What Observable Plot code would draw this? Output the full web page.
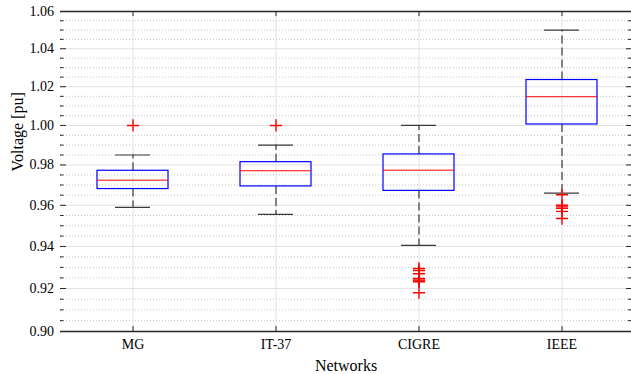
<!DOCTYPE html>
<html><head><meta charset="utf-8">
<script src="https://cdn.jsdelivr.net/npm/d3@7"></script>
<script src="https://cdn.jsdelivr.net/npm/@observablehq/plot@0.6"></script>
<style>
body{margin:0;background:#fff}
</style>
</head><body><div id="chart"></div>
<script>
const networks = ["MG", "IT-37", "CIGRE", "IEEE"];
const whiskerLow = [0.959, 0.9555, 0.9405, 0.966];
const q1 = [0.968, 0.9693, 0.9671, 1.0005];
const median = [0.9724, 0.9771, 0.9774, 1.0148];
const q3 = [0.9771, 0.9814, 0.9853, 1.0235];
const whiskerHigh = [0.985, 0.990, 1.000, 1.050];
const outlierNetwork = ["MG", "IT-37", "CIGRE", "CIGRE", "CIGRE", "CIGRE", "CIGRE", "CIGRE", "CIGRE", "CIGRE",
  "IEEE", "IEEE", "IEEE", "IEEE", "IEEE", "IEEE"];
const outlierValue = [1.000, 1.000, 0.9295, 0.9285, 0.9270, 0.9248, 0.9240, 0.9235, 0.9232, 0.9180,
  0.9652, 0.9600, 0.9592, 0.9585, 0.9570, 0.9535];
const yTicks = [0.90, 0.92, 0.94, 0.96, 0.98, 1.00, 1.02, 1.04, 1.06];
const yMinorTicks = [0.905, 0.910, 0.915, 0.925, 0.930, 0.935, 0.945, 0.950, 0.955, 0.965, 0.970, 0.975,
  0.985, 0.990, 0.995, 1.005, 1.010, 1.015, 1.025, 1.030, 1.035, 1.045, 1.050, 1.055];

const boxes = networks.map((n, i) => ({n, lo: whiskerLow[i], q1: q1[i], med: median[i], q3: q3[i], hi: whiskerHigh[i]}));
const outliers = outlierNetwork.map((n, i) => ({n, v: outlierValue[i]}));

const W = 631, H = 374, ML = 60, MR = 0, MT = 11, MB = 43;
const frameW = W - ML - MR;
const axisColor = "#262626";
const FONT = "Liberation Serif";

const chart = Plot.plot({
  width: W, height: H,
  marginLeft: ML, marginRight: MR, marginTop: MT, marginBottom: MB,
  style: "background: #fff; color: #000; font-family: 'Liberation Serif', serif; font-size: 14px; overflow: visible;",
  x: {domain: networks, type: "band", range: [ML, 633.3], padding: 0, label: null},
  y: {type: "log", domain: [0.90, 1.06], label: null},
  marks: [
    // grid
    Plot.ruleY(yMinorTicks, {stroke: "#c4c4c4", strokeWidth: 1, strokeDasharray: "1,2"}),
    Plot.ruleY(yTicks, {stroke: "#e2e2e2", strokeWidth: 1}),
    Plot.ruleX(networks, {x: d => d, stroke: "#e2e2e2", strokeWidth: 1}),
    // whiskers
    Plot.ruleX(boxes, {x: "n", y1: "q3", y2: "hi", stroke: "#3a3a3a", strokeWidth: 1.2, strokeDasharray: "8,4"}),
    Plot.ruleX(boxes, {x: "n", y1: "q1", y2: "lo", stroke: "#3a3a3a", strokeWidth: 1.2, strokeDasharray: "8,4"}),
    Plot.tickY(boxes, {x: "n", y: "hi", stroke: "#3a3a3a", strokeWidth: 1.2, insetLeft: 54, insetRight: 54}),
    Plot.tickY(boxes, {x: "n", y: "lo", stroke: "#3a3a3a", strokeWidth: 1.2, insetLeft: 54, insetRight: 54}),
    // boxes
    Plot.barY(boxes, {x: "n", y1: "q1", y2: "q3", fill: "none", stroke: "#0000ff", strokeWidth: 1.2, insetLeft: 36, insetRight: 36}),
    Plot.tickY(boxes, {x: "n", y: "med", stroke: "#ff0000", strokeWidth: 1, insetLeft: 36, insetRight: 36}),
    // outliers
    Plot.dot(outliers, {x: "n", y: "v", symbol: "plus", r: 4, stroke: "#ff0000", strokeWidth: 1.4}),
    // frame lines
    Plot.ruleY([0.90], {stroke: axisColor, strokeWidth: 1.3}),
    Plot.ruleY([1.06], {stroke: axisColor, strokeWidth: 1.3}),
    Plot.ruleX([0], {x: () => null, frameAnchor: "left", stroke: axisColor}),
    // inward ticks left and right
    Plot.tickY(yTicks, {y: d => d, insetRight: frameW - 6, stroke: axisColor}),
    Plot.tickY(yMinorTicks, {y: d => d, insetRight: frameW - 3.5, stroke: axisColor}),
    Plot.tickY(yTicks, {y: d => d, insetLeft: frameW - 5, stroke: axisColor}),
    Plot.tickY(yMinorTicks, {y: d => d, insetLeft: frameW - 3, stroke: axisColor}),
    // inward ticks top and bottom
    Plot.tickX(networks, {x: d => d, insetTop: H - MT - MB - 5, stroke: axisColor}),
    Plot.tickX(networks, {x: d => d, insetBottom: H - MT - MB - 5, stroke: axisColor}),
    // axes labels
    Plot.axisY({ticks: yTicks, tickSize: 0, tickPadding: 6.5, tickFormat: d3.format(".2f"), label: null, fontSize: 14, fontFamily: FONT}),
    Plot.axisX({tickSize: 0, tickPadding: 8, label: null, fontSize: 14, fontFamily: FONT}),
    Plot.text(["Networks"], {frameAnchor: "bottom", dy: 34, text: d => d, lineAnchor: "middle", fontSize: 16, fontFamily: FONT}),
    Plot.text(["Voltage [pu]"], {frameAnchor: "left", dx: -43, rotate: -90, text: d => d, lineAnchor: "middle", fontSize: 16, fontFamily: FONT})
  ]
});
chart.querySelectorAll("text").forEach(t => t.setAttribute("fill", "#000"));
document.getElementById("chart").appendChild(chart);
</script>
</body></html>
